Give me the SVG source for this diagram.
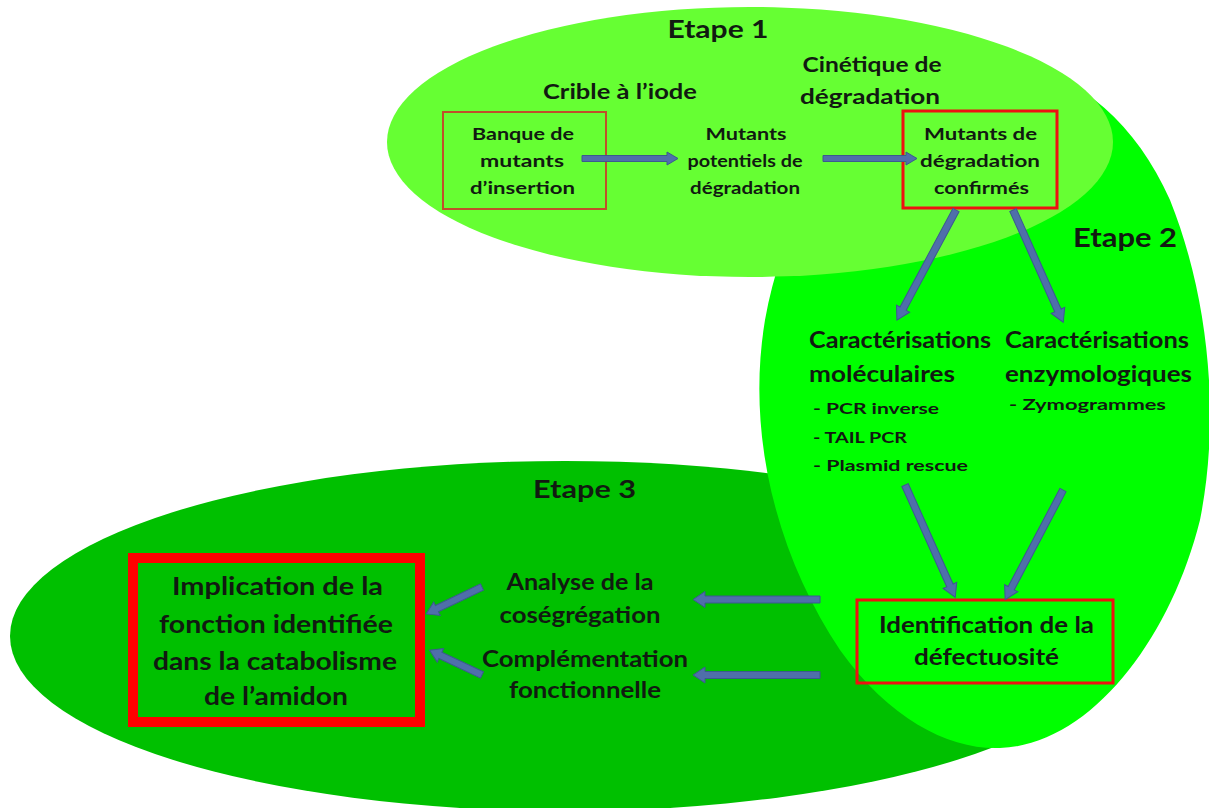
<svg xmlns="http://www.w3.org/2000/svg" width="1209" height="808" viewBox="0 0 1209 808">
<style>
.t{font-family:Lato,"Open Sans","Liberation Sans",sans-serif;font-weight:bold;fill:#111a11}
.c{text-anchor:middle}
.arrow{fill:#4F6FAA;stroke:#3B5A8E;stroke-width:1}
.box{fill:none}
</style>
<rect width="1209" height="808" fill="#ffffff"/>
<g id="etape3">
<ellipse cx="565" cy="636" rx="555" ry="175" fill="#00C000"/>
</g>
<g id="etape2">
<path d="M1000,748 C1090,745 1170,640 1200,520 C1220,420 1210,300 1170,200 C1130,110 1060,60 980,60 C880,60 790,180 765,320 C745,440 780,560 840,650 C890,720 950,750 1000,748 Z" fill="#00FF00"/>
</g>
<g id="etape1">
<ellipse cx="750" cy="142" rx="363" ry="135" fill="#66FF33"/>
</g>
<g id="labels">
<text class="t c" x="718" y="38" font-size="25" textLength="101" lengthAdjust="spacingAndGlyphs">Etape 1</text>
<text class="t c" x="620" y="99" font-size="21" textLength="154" lengthAdjust="spacingAndGlyphs">Crible à l’iode</text>
<text class="t c" x="872" y="72" font-size="21" textLength="139" lengthAdjust="spacingAndGlyphs">Cinétique de</text>
<text class="t c" x="870" y="104" font-size="21" textLength="140" lengthAdjust="spacingAndGlyphs">dégradation</text>
<text class="t c" x="1125" y="247" font-size="27" textLength="104" lengthAdjust="spacingAndGlyphs">Etape 2</text>
<text class="t" x="533" y="498" font-size="25" textLength="103" lengthAdjust="spacingAndGlyphs">Etape 3</text>
</g>
<g id="banque">
<rect class="box" x="443" y="112" width="163" height="97" stroke="#C0502A" stroke-width="2"/>
<text class="t c" x="523" y="140" font-size="17" textLength="102" lengthAdjust="spacingAndGlyphs">Banque de</text>
<text class="t c" x="522" y="167" font-size="17" textLength="84" lengthAdjust="spacingAndGlyphs">mutants</text>
<text class="t c" x="522.5" y="194" font-size="17" textLength="105" lengthAdjust="spacingAndGlyphs">d’insertion</text>
</g>
<g id="potentiels">
<text class="t c" x="746" y="140" font-size="17" textLength="81" lengthAdjust="spacingAndGlyphs">Mutants</text>
<text class="t c" x="745" y="167" font-size="17" textLength="115" lengthAdjust="spacingAndGlyphs">potentiels de</text>
<text class="t c" x="745" y="194" font-size="17" textLength="110" lengthAdjust="spacingAndGlyphs">dégradation</text>
</g>
<g id="confirmes">
<rect class="box" x="903" y="111" width="154" height="97" stroke="#EE1111" stroke-width="3"/>
<text class="t c" x="980.5" y="140" font-size="17" textLength="113" lengthAdjust="spacingAndGlyphs">Mutants de</text>
<text class="t c" x="980" y="167" font-size="17" textLength="120" lengthAdjust="spacingAndGlyphs">dégradation</text>
<text class="t c" x="981.5" y="194" font-size="17" textLength="95" lengthAdjust="spacingAndGlyphs">confirmés</text>
</g>
<g id="moleculaires">
<text class="t" x="809" y="348" font-size="23" textLength="182" lengthAdjust="spacingAndGlyphs">Caractérisations</text>
<text class="t" x="809" y="382" font-size="23" textLength="146" lengthAdjust="spacingAndGlyphs">moléculaires</text>
<text class="t" x="813" y="414" font-size="16" textLength="126" lengthAdjust="spacingAndGlyphs">- PCR inverse</text>
<text class="t" x="813" y="443" font-size="16" textLength="94" lengthAdjust="spacingAndGlyphs">- TAIL PCR</text>
<text class="t" x="813" y="471" font-size="16" textLength="155" lengthAdjust="spacingAndGlyphs">- Plasmid rescue</text>
</g>
<g id="enzymologiques">
<text class="t" x="1005" y="348" font-size="23" textLength="184" lengthAdjust="spacingAndGlyphs">Caractérisations</text>
<text class="t" x="1005" y="382" font-size="23" textLength="187" lengthAdjust="spacingAndGlyphs">enzymologiques</text>
<text class="t" x="1009" y="410" font-size="16" textLength="157" lengthAdjust="spacingAndGlyphs">- Zymogrammes</text>
</g>
<g id="identification">
<rect class="box" x="857" y="600" width="256" height="83" stroke="#EE1111" stroke-width="3"/>
<text class="t c" x="986.5" y="633" font-size="22" textLength="215" lengthAdjust="spacingAndGlyphs">Identification de la</text>
<text class="t c" x="986.5" y="665" font-size="22" textLength="145" lengthAdjust="spacingAndGlyphs">défectuosité</text>
</g>
<g id="cosegregation">
<text class="t c" x="580" y="590" font-size="22" textLength="147" lengthAdjust="spacingAndGlyphs">Analyse de la</text>
<text class="t c" x="580" y="623" font-size="22" textLength="161" lengthAdjust="spacingAndGlyphs">coségrégation</text>
</g>
<g id="complementation">
<text class="t c" x="585" y="667" font-size="22" textLength="206" lengthAdjust="spacingAndGlyphs">Complémentation</text>
<text class="t c" x="585" y="698" font-size="22" textLength="152" lengthAdjust="spacingAndGlyphs">fonctionnelle</text>
</g>
<g id="implication">
<rect class="box" x="133" y="558" width="287" height="164" stroke="#FF0000" stroke-width="10"/>
<text class="t c" x="277.5" y="595" font-size="24" textLength="211" lengthAdjust="spacingAndGlyphs">Implication de la</text>
<text class="t c" x="276" y="633" font-size="24" textLength="234" lengthAdjust="spacingAndGlyphs">fonction identifiée</text>
<text class="t c" x="275" y="670" font-size="24" textLength="244" lengthAdjust="spacingAndGlyphs">dans la catabolisme</text>
<text class="t c" x="276" y="705" font-size="24" textLength="144" lengthAdjust="spacingAndGlyphs">de l’amidon</text>
</g>
<g id="connectors">
<path class="arrow" d="M0,-3 H85 V-6.5 L96,0 L85,6.5 V3 H0 Z" transform="translate(582,158.5)"/>
<path class="arrow" d="M0,-3 H83 V-6.5 L94,0 L83,6.5 V3 H0 Z" transform="translate(823,158.5)"/>
<path class="arrow" d="M0,-3.5 H112 V-7.5 L125,0 L112,7.5 V3.5 H0 Z" transform="translate(956,210) rotate(118.2)"/>
<path class="arrow" d="M0,-3.5 H110 V-7.5 L123,0 L110,7.5 V3.5 H0 Z" transform="translate(1013,210) rotate(65.9)"/>
<path class="arrow" d="M0,-3.5 H110 V-7.5 L123,0 L110,7.5 V3.5 H0 Z" transform="translate(905,485) rotate(65.9)"/>
<path class="arrow" d="M0,-3.5 H111 V-7.5 L124,0 L111,7.5 V3.5 H0 Z" transform="translate(1063,490) rotate(117.8)"/>
<path class="arrow" d="M0,-3.5 H115 V-8 L127,0 L115,8 V3.5 H0 Z" transform="translate(820,599.5) rotate(180)"/>
<path class="arrow" d="M0,-3.5 H115 V-8 L127,0 L115,8 V3.5 H0 Z" transform="translate(820,675) rotate(180)"/>
<path class="arrow" d="M0,-3.5 H50 V-7.5 L62,0 L50,7.5 V3.5 H0 Z" transform="translate(482,587) rotate(154.3)"/>
<path class="arrow" d="M0,-3.5 H46 V-7.5 L58,0 L46,7.5 V3.5 H0 Z" transform="translate(482,675) rotate(205.3)"/>
</g>
</svg>
